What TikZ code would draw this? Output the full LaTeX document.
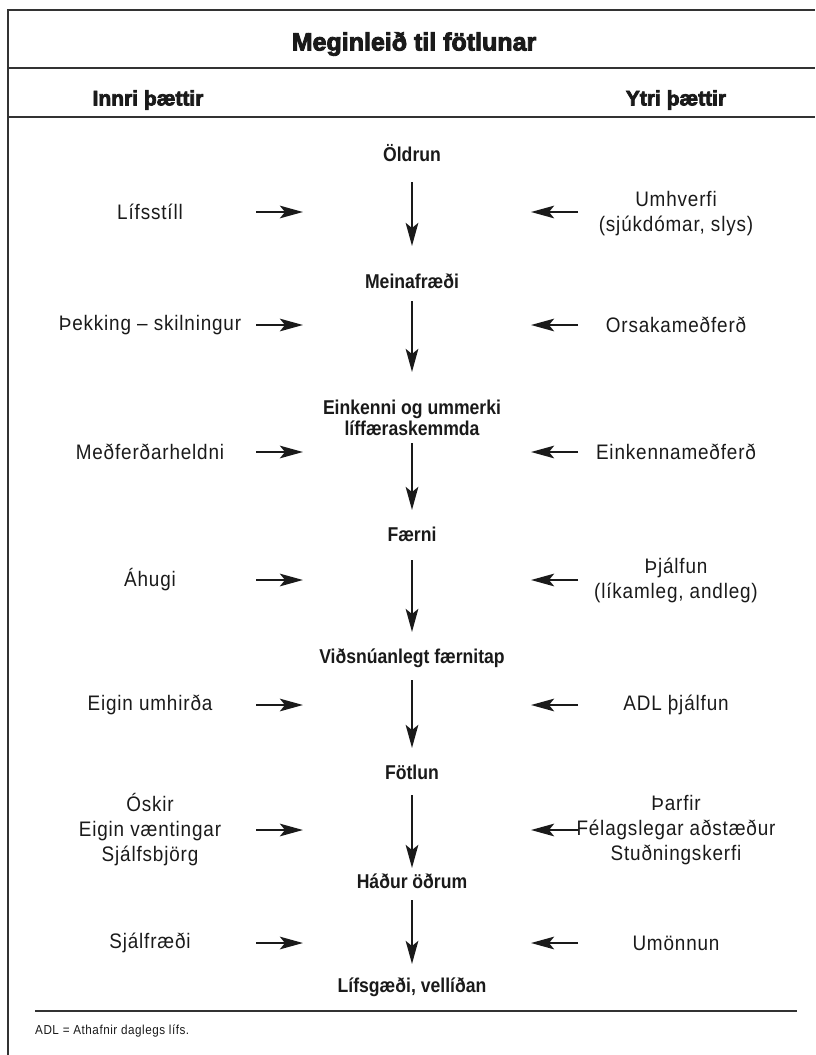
\documentclass[tikz,border=0pt]{standalone}
\usepackage{fontspec}
\setmainfont{Liberation Sans}[FakeStretch=0.9, LetterSpace=4]
\newfontfamily\headfont[FakeBold=3.5]{Liberation Sans Bold}
\newfontfamily\lblfont[FakeStretch=0.88]{Liberation Sans Bold}
\usetikzlibrary{arrows.meta}
\definecolor{ink}{HTML}{1A1A1A}
\definecolor{rule}{HTML}{333333}
\tikzset{
  side/.style={font=\fontsize{21}{25}\selectfont, align=center, text=ink, inner sep=0pt},
  stage/.style={font=\lblfont\fontsize{20}{21}\selectfont, align=center, text=ink, inner sep=0pt},
  header/.style={font=\headfont\fontsize{21}{24}\selectfont, text=ink, inner sep=0pt},
  flow/.style={line width=2.6pt, draw=ink, -{Stealth[length=23pt,width=12.5pt,inset=5pt]}},
  frameline/.style={line width=2pt, draw=rule},
}
\begin{document}
\begin{tikzpicture}[x=1pt,y=-1pt]
\useasboundingbox (0,0) rectangle (815,1055);
% frame
\draw[frameline] (8,1055) -- (8,10) -- (815,10);
\draw[frameline] (8,68) -- (815,68);
\draw[frameline] (8,117) -- (815,117);
\draw[line width=1.6pt, draw=rule] (35,1011) -- (797,1011);
% title and headers
\node[header, font=\headfont\fontsize{25}{28}\selectfont] (title) at (414,44) {Meginleið til fötlunar};
\node[header] (innri) at (148,100) {Innri þættir};
\node[header] (ytri) at (676,100) {Ytri þættir};
% stages
\node[stage] (s1) at (412,153) {Öldrun};
\node[stage] (s2) at (412,281) {Meinafræði};
\node[stage] (s3) at (412,418) {Einkenni og ummerki\\líffæraskemmda};
\node[stage] (s4) at (412,534) {Færni};
\node[stage] (s5) at (412,658) {Viðsnúanlegt færnitap};
\node[stage] (s6) at (412,772) {Fötlun};
\node[stage] (s7) at (412,881) {Háður öðrum};
\node[stage] (s8) at (412,987) {Lífsgæði, vellíðan};
% vertical arrows
\coordinate (a1s) at (412,182); \coordinate (a1e) at (412,246);
\coordinate (a2s) at (412,301); \coordinate (a2e) at (412,372);
\coordinate (a3s) at (412,443); \coordinate (a3e) at (412,510);
\coordinate (a4s) at (412,560); \coordinate (a4e) at (412,632);
\coordinate (a5s) at (412,680); \coordinate (a5e) at (412,748);
\coordinate (a6s) at (412,795); \coordinate (a6e) at (412,868);
\coordinate (a7s) at (412,900); \coordinate (a7e) at (412,964);
\foreach \i in {1,...,7} {\draw[flow] (a\i s) -- (a\i e);}
% left factors
\node[side] (l1) at (150,212) {Lífsstíll};
\node[side] (l2) at (150,325) {Þekking – skilningur};
\node[side] (l3) at (150,452) {Meðferðarheldni};
\node[side] (l4) at (150,580) {Áhugi};
\node[side] (l5) at (150,705) {Eigin umhirða};
\node[side] (l6) at (150,830) {Óskir\\Eigin væntingar\\Sjálfsbjörg};
\node[side] (l7) at (150,943) {Sjálfræði};
% right factors
\node[side] (r1) at (676,214) {Umhverfi\\(sjúkdómar, slys)};
\node[side] (r2) at (676,325) {Orsakameðferð};
\node[side] (r3) at (676,452) {Einkennameðferð};
\node[side] (r4) at (676,580) {Þjálfun\\(líkamleg, andleg)};
\node[side] (r5) at (676,705) {ADL þjálfun};
\node[side] (r6) at (676,830) {Þarfir\\Félagslegar aðstæður\\Stuðningskerfi};
\node[side] (r7) at (676,943) {Umönnun};
% horizontal arrows
\foreach \i/\y in {1/212,2/325,3/452,4/580,5/705,6/830,7/943} {
  \coordinate (lt\i) at (256,\y); \coordinate (lh\i) at (303,\y);
  \coordinate (rt\i) at (578,\y); \coordinate (rh\i) at (531,\y);
  \draw[flow] (lt\i) -- (lh\i);
  \draw[flow] (rt\i) -- (rh\i);
}
% footnote
\node[anchor=west, font=\fontsize{13}{15}\selectfont, text=ink, inner sep=0pt] (foot) at (35,1031) {ADL = Athafnir daglegs lífs.};
\end{tikzpicture}
\end{document}
